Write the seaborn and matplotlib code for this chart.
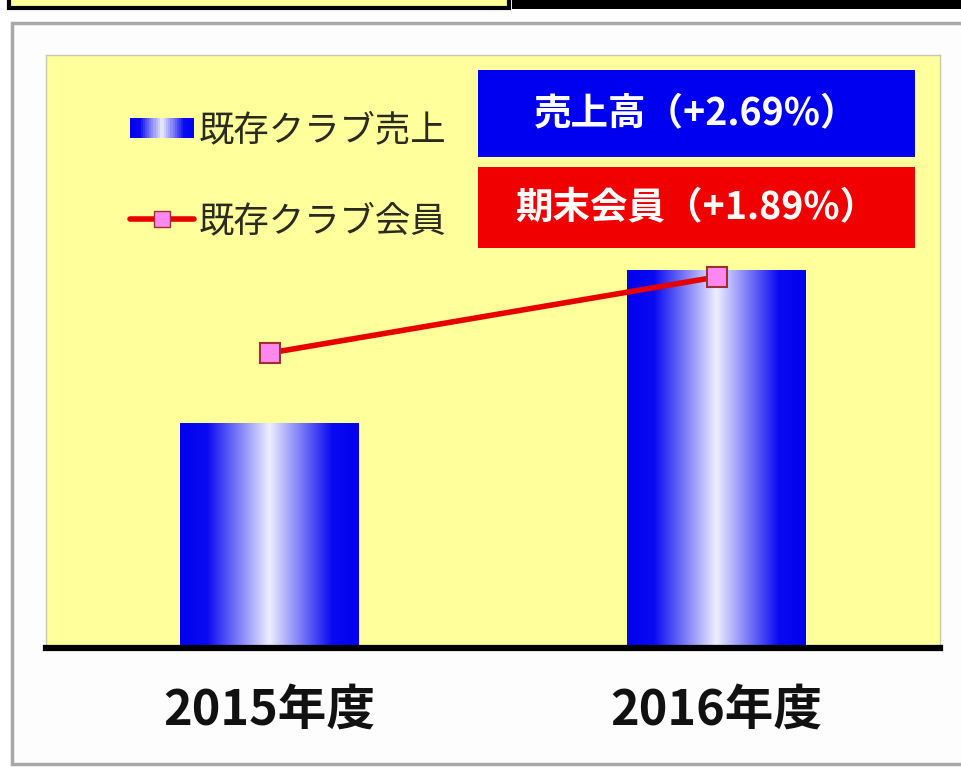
import numpy as np
import pandas as pd
import matplotlib
matplotlib.use("Agg")
import matplotlib.pyplot as plt
import seaborn as sns
from matplotlib.patches import Rectangle, Patch
from matplotlib.lines import Line2D
from matplotlib.legend_handler import HandlerBase
from matplotlib.colors import LinearSegmentedColormap

# data (no axis in the source, heights read in pixels from the baseline)
years = ["2015年度", "2016年度"]
sales = [225, 378]
members = [295, 371]
sales_label = "既存クラブ売上"
member_label = "既存クラブ会員"
sales_box = "売上高（+2.69%）"
member_box = "期末会員（+1.89%）"

W, H = 962, 769
JP = ['Noto Sans CJK JP', 'DejaVu Sans']

sns.set_theme(style="white")
plt.rcParams['font.family'] = JP

grad = LinearSegmentedColormap.from_list(
    "bar", [(0.0, "#0000F0"), (0.15, "#0A0AF2"), (0.5, "#EEEEFF"), (0.85, "#0A0AF2"), (1.0, "#0000F0")])


def px(x0, y0, x1, y1):
    # pixel box (top-left origin) -> figure fraction rect
    return (x0 / W, 1 - y1 / H), (x1 - x0) / W, (y1 - y0) / H


class HandlerGradient(HandlerBase):
    def create_artists(self, legend, orig, xd, yd, width, height, fontsize, trans):
        n = 30
        out = []
        for i in range(n):
            r = Rectangle((xd + width * i / n, yd + height * 0.1), width / n + 0.3, height * 0.8,
                          facecolor=grad((i + 0.5) / n), edgecolor="none", transform=trans)
            out.append(r)
        return out


fig = plt.figure(figsize=(W / 100, H / 100), dpi=100, facecolor="white")

# page decorations around the chart
xy, w, h = px(12, 23, 975, 764)
fig.add_artist(Rectangle(xy, w, h, transform=fig.transFigure, facecolor="#FDFDFD",
                         edgecolor="#A8A8A8", lw=2.5, zorder=-5))
xy, w, h = px(9, -6, 509, 8)
fig.add_artist(Rectangle(xy, w, h, transform=fig.transFigure, facecolor="#FFFF99",
                         edgecolor="black", lw=3))
xy, w, h = px(512, -2, 965, 9)
fig.add_artist(Rectangle(xy, w, h, transform=fig.transFigure, facecolor="black", edgecolor="none"))

(ax_x, ax_y), ax_w, ax_h = px(46, 55, 940, 648)
ax = fig.add_axes([ax_x, ax_y, ax_w, ax_h])
ax.set_facecolor("#FFFF9C")

df = pd.DataFrame({"year": years, "sales": sales})
sns.barplot(data=df, x="year", y="sales", width=0.4, color="blue", ax=ax)

gradient = np.linspace(0, 1, 256).reshape(1, -1)
for bar in list(ax.patches):
    bx, by = bar.get_x(), bar.get_y()
    bw, bh = bar.get_width(), bar.get_height()
    im = ax.imshow(gradient, cmap=grad, aspect="auto", extent=[bx, bx + bw, by, by + bh],
                   zorder=2, interpolation="bicubic")
    im.set_clip_path(bar)
    bar.set_facecolor("none")
    bar.set_edgecolor("none")

sns.lineplot(x=np.arange(len(years)), y=members, color="#E80000", lw=4, marker="s",
             markersize=15, markerfacecolor="#FF88F0", markeredgecolor="#A03030",
             markeredgewidth=1.5, ax=ax, legend=False, zorder=4)

ax.set_xlim(-0.5, 1.5)
ax.set_ylim(0, 593)
ax.set_xlabel("")
ax.set_ylabel("")
ax.set_yticks([])
ax.set_xticks(range(len(years)))
ax.set_xticklabels(years, fontsize=35, fontweight="bold", color="#111111")
ax.tick_params(axis="x", length=0, pad=27)
for side in ["top", "right", "left"]:
    ax.spines[side].set_color("#C8C8B0")
    ax.spines[side].set_linewidth(1)
ax.spines["bottom"].set_color("black")
ax.spines["bottom"].set_linewidth(4.5)

handles = [Patch(label=sales_label),
           Line2D([], [], color="#E80000", lw=4, marker="s", markersize=12,
                  markerfacecolor="#FF88F0", markeredgecolor="#A03030", label=member_label)]
ax.legend(handles=handles, handler_map={Patch: HandlerGradient()}, frameon=False,
          loc="upper left", bbox_to_anchor=(130 / W, 1 - 112 / H), bbox_transform=fig.transFigure,
          fontsize=25.5, labelspacing=1.55, handlelength=1.8, handletextpad=0.15, borderpad=0,
          borderaxespad=0, labelcolor="#2A2A20")

# headline boxes
for (y0, y1), text, col in [((70, 157), sales_box, "#0000F0"), ((167, 248), member_box, "#F00000")]:
    xy, w, h = px(478, y0, 915, y1)
    fig.add_artist(Rectangle(xy, w, h, transform=fig.transFigure, facecolor=col, edgecolor="none"))
    fig.text(xy[0] + w / 2, xy[1] + h / 2, text, ha="center", va="center", color="white",
             fontsize=27, fontweight="bold")

fig.savefig("out.png", dpi=100)
